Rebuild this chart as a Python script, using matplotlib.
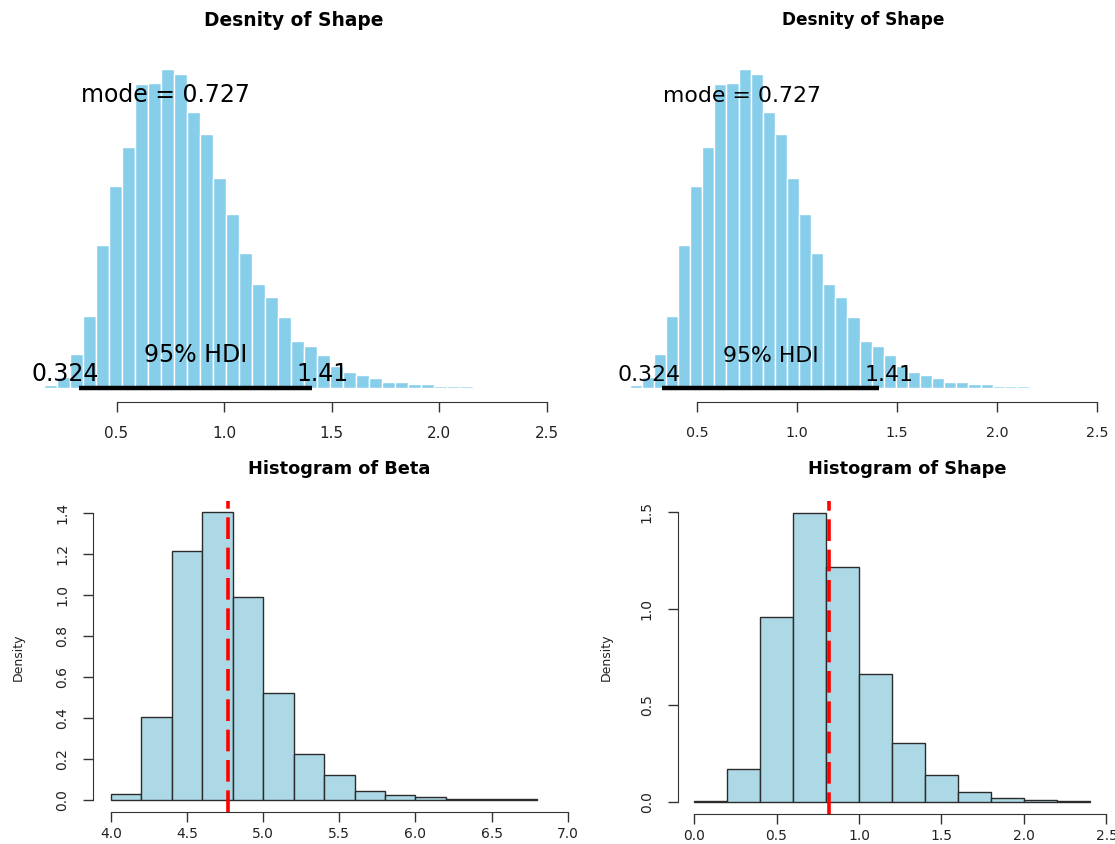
"""Posterior plots for the Weibull fit: two BEST-style density panels for the
shape parameter on top, plain density histograms for beta and shape below."""
import matplotlib

matplotlib.use("Agg")

import matplotlib.pyplot as plt  # noqa: E402
import numpy as np  # noqa: E402
from matplotlib.transforms import ScaledTranslation  # noqa: E402

# --- posterior of shape (plotPost style, top row) ---
shape_edges = [0.163, 0.224, 0.284, 0.345, 0.405, 0.466, 0.526, 0.587, 0.647,
               0.708, 0.768, 0.829, 0.889, 0.950, 1.010, 1.071, 1.131, 1.192,
               1.252, 1.313, 1.373, 1.434, 1.494, 1.555, 1.615, 1.676, 1.736,
               1.797, 1.857, 1.918, 1.978, 2.039, 2.099, 2.160]
shape_dens = [0.012, 0.048, 0.162, 0.345, 0.681, 0.968, 1.151, 1.456, 1.462,
              1.528, 1.504, 1.323, 1.213, 1.002, 0.833, 0.646, 0.497, 0.433,
              0.337, 0.221, 0.197, 0.158, 0.101, 0.073, 0.058, 0.045, 0.027,
              0.027, 0.015, 0.015, 0.009, 0.006, 0.006]
shape_mode = 0.727
hdi_lo, hdi_hi = 0.324, 1.41
top_ticks = [0.5, 1.0, 1.5, 2.0, 2.5]
top_ticklabels = ["0.5", "1.0", "1.5", "2.0", "2.5"]

# --- histogram of beta (bottom left) ---
beta_edges = [4.0, 4.2, 4.4, 4.6, 4.8, 5.0, 5.2, 5.4, 5.6, 5.8, 6.0, 6.2, 6.4, 6.6, 6.8]
beta_dens = [0.029, 0.406, 1.213, 1.402, 0.991, 0.520, 0.226, 0.122, 0.044,
             0.024, 0.016, 0.003, 0.003, 0.003]
beta_mean = 4.767
beta_xticks = [4.0, 4.5, 5.0, 5.5, 6.0, 6.5, 7.0]
beta_xticklabels = ["4.0", "4.5", "5.0", "5.5", "6.0", "6.5", "7.0"]
beta_yticks = [0.0, 0.2, 0.4, 0.6, 0.8, 1.0, 1.2, 1.4]
beta_yticklabels = ["0.0", "0.2", "0.4", "0.6", "0.8", "1.0", "1.2", "1.4"]

# --- histogram of shape (bottom right) ---
shp_edges = [0.0, 0.2, 0.4, 0.6, 0.8, 1.0, 1.2, 1.4, 1.6, 1.8, 2.0, 2.2, 2.4]
shp_dens = [0.005, 0.170, 0.955, 1.494, 1.216, 0.661, 0.305, 0.141, 0.052,
            0.021, 0.010, 0.005]
shp_mean = 0.818
shp_xticks = [0.0, 0.5, 1.0, 1.5, 2.0, 2.5]
shp_xticklabels = ["0.0", "0.5", "1.0", "1.5", "2.0", "2.5"]
shp_yticks = [0.0, 0.5, 1.0, 1.5]
shp_yticklabels = ["0.0", "0.5", "1.0", "1.5"]

W, H = 1115, 844
DPI = 100
AX_COL = "#333333"

fig = plt.figure(figsize=(W / DPI, H / DPI), dpi=DPI)


def px_axes(left, right, top, bottom):
    return fig.add_axes([left / W, 1 - bottom / H, (right - left) / W, (bottom - top) / H])


def px_text(x, y, s, **kw):
    fig.text(x / W, 1 - y / H, s, ha="center", va="center", **kw)


def adj_text(ax, x, y, s, frac, **kw):
    # R-style adj: the point `frac` of the way along the text sits at x
    t = ax.text(x, y, s, ha="left", va="baseline", **kw)
    w = t.get_window_extent(renderer=fig.canvas.get_renderer()).width
    t.set_transform(ax.transData + ScaledTranslation(-frac * w / DPI, 0, fig.dpi_scale_trans))


def post_panel(ax, fs, tick_fs, title_fs, title_xy):
    e = np.array(shape_edges)
    ax.bar(e[:-1], shape_dens, width=np.diff(e), align="edge", color="#87CEEB",
           edgecolor="white", linewidth=1.0)
    ax.plot([hdi_lo, hdi_hi], [0, 0], color="black", lw=3.2, solid_capstyle="butt")
    ax.set_xlim(0.06, 2.59)
    ax.set_ylim(-0.0695, 1.642)
    for sp in ("top", "right", "left"):
        ax.spines[sp].set_visible(False)
    ax.spines["bottom"].set_bounds(0.5, 2.5)
    ax.spines["bottom"].set_color(AX_COL)
    ax.set_yticks([])
    ax.set_xticks(top_ticks, top_ticklabels)
    ax.tick_params(axis="x", length=7, width=1, color=AX_COL, pad=10,
                   labelsize=tick_fs, labelcolor="#222222")
    ax.text(shape_mode, 1.37, "mode = 0.727", ha="center", va="baseline", fontsize=fs)
    ax.text((hdi_lo + hdi_hi) / 2, 0.124, "95% HDI", ha="center", va="baseline", fontsize=fs)
    adj_text(ax, hdi_lo, 0.03, "0.324", 0.7, fontsize=fs)
    adj_text(ax, hdi_hi, 0.03, "1.41", 0.3, fontsize=fs)
    px_text(*title_xy, "Desnity of Shape", fontsize=title_fs, fontweight="bold")


def hist_panel(ax, edges, dens, mean, xt, xtl, yt, ytl, title, title_xy, ylab_xy):
    e = np.array(edges)
    ax.bar(e[:-1], dens, width=np.diff(e), align="edge", color="#ADD8E6",
           edgecolor="#2b2b2b", linewidth=1.0)
    ax.axvline(mean, color="red", lw=2.6, dashes=(6, 2.4))
    for sp in ("top", "right"):
        ax.spines[sp].set_visible(False)
    ax.spines["bottom"].set_bounds(xt[0], xt[-1])
    ax.spines["left"].set_bounds(yt[0], yt[-1])
    for sp in ("bottom", "left"):
        ax.spines[sp].set_color(AX_COL)
    ax.set_xticks(xt, xtl)
    ax.set_yticks(yt, ytl)
    ax.tick_params(axis="x", length=7, width=1, color=AX_COL, pad=4,
                   labelsize=10, labelcolor="#222222")
    ax.tick_params(axis="y", length=7, width=1, color=AX_COL, pad=10,
                   labelsize=10, labelcolor="#222222", labelrotation=90)
    for lbl in ax.get_yticklabels():
        lbl.set_va("center")
    px_text(*title_xy, title, fontsize=12.8, fontweight="bold")
    px_text(*ylab_xy, "Density", fontsize=9, rotation=90, color="#222222")


ax1 = px_axes(21.9, 565.9, 45, 402)
post_panel(ax1, 17, 11, 13.4, (293.5, 20))

ax2 = px_axes(609, 1115, 45, 402)
post_panel(ax2, 15.8, 10.3, 12.2, (863, 20))

ax3 = px_axes(92.7, 586, 500.8, 811.5)
ax3.set_xlim(3.88, 7.12)
ax3.set_ylim(-0.056, 1.458)
hist_panel(ax3, beta_edges, beta_dens, beta_mean, beta_xticks, beta_xticklabels,
           beta_yticks, beta_yticklabels, "Histogram of Beta", (339, 469), (18.5, 657))

ax4 = px_axes(677.5, 1123, 501.3, 813.9)
ax4.set_xlim(-0.1, 2.6)
ax4.set_ylim(-0.0598, 1.554)
hist_panel(ax4, shp_edges, shp_dens, shp_mean, shp_xticks, shp_xticklabels,
           shp_yticks, shp_yticklabels, "Histogram of Shape", (907, 469), (606.5, 657))

fig.savefig("out.png", dpi=DPI)
plt.close(fig)
